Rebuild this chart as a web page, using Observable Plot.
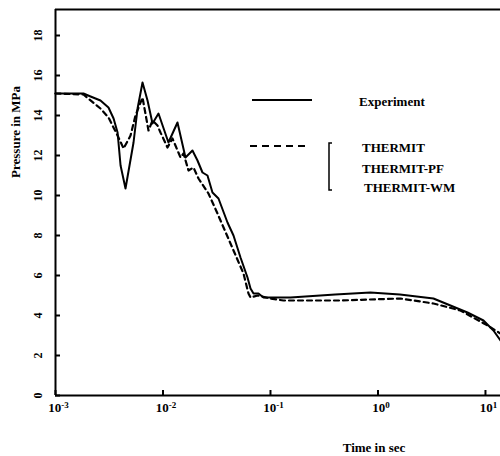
<!DOCTYPE html>
<html><head><meta charset="utf-8">
<script src="https://cdn.jsdelivr.net/npm/d3@7"></script>
<script src="https://cdn.jsdelivr.net/npm/@observablehq/plot@0.6"></script>
<style>
body{margin:0;background:#fff;}
#wrap{position:relative;width:500px;height:456px;font-family:"Liberation Serif","DejaVu Serif","Times New Roman",serif;font-weight:bold;}
#wrap svg.overlay{position:absolute;left:0;top:0;pointer-events:none;}
#wrap text{font-family:"Liberation Serif","DejaVu Serif","Times New Roman",serif;}
</style></head><body><div id="wrap"></div>
<script>
// Experiment (solid)
const expTime = [0.001, 0.00182, 0.00212, 0.00262, 0.00311, 0.00347, 0.00378, 0.00403, 0.00448, 0.00532, 0.0058, 0.00645, 0.00718, 0.00799, 0.00908, 0.01124, 0.01364, 0.01619, 0.0188, 0.02094, 0.0233, 0.02594, 0.02886, 0.03283, 0.03981, 0.04528, 0.05262, 0.06113, 0.0652, 0.0695, 0.0773, 0.0861, 0.1535, 0.4, 0.85, 1.6, 3.28, 6.8, 9.58, 11.86, 13.8];
const expPressure = [15.1, 15.1, 14.95, 14.75, 14.4, 13.85, 13.15, 11.5, 10.35, 12.65, 14.35, 15.65, 14.75, 13.6, 14.1, 12.65, 13.65, 11.9, 12.25, 11.75, 11.15, 11.0, 10.15, 9.85, 8.65, 8.0, 6.9, 5.9, 5.35, 5.1, 5.1, 4.9, 4.9, 5.05, 5.15, 5.05, 4.85, 4.15, 3.75, 3.25, 2.75];
// THERMIT family (dashed)
const thermitTime = [0.001, 0.00182, 0.00262, 0.00311, 0.00378, 0.0043, 0.00499, 0.00555, 0.00645, 0.00733, 0.00799, 0.00889, 0.00948, 0.01101, 0.01225, 0.01306, 0.01455, 0.01552, 0.01727, 0.01922, 0.02139, 0.02649, 0.03213, 0.04246, 0.0561, 0.06242, 0.0652, 0.07567, 0.1, 0.1321, 0.448, 1.62, 3.28, 5.85, 10.45, 13.8];
const thermitPressure = [15.1, 15.05, 14.35, 13.9, 13.0, 12.35, 13.0, 14.0, 14.9, 13.25, 13.75, 13.5, 13.15, 12.4, 12.85, 12.5, 11.9, 12.1, 11.25, 11.4, 10.85, 10.1, 9.1, 7.6, 6.1, 5.1, 4.9, 5.0, 4.85, 4.75, 4.75, 4.85, 4.6, 4.25, 3.5, 3.1];
const yTicks = [0, 2, 4, 6, 8, 10, 12, 14, 16, 18];
const xTicks = [0.001, 0.01, 0.1, 1, 10];
const xTickExponents = ["-3", "-2", "-1", "0", "1"];
const legendSolid = ["Experiment"];
const legendDashed = ["THERMIT", "THERMIT-PF", "THERMIT-WM"];
const xTitle = "Time in sec";
const yTitle = "Pressure in MPa";

const xDomain = [0.001, 13.8];
const yDomain = [0, 19.3];

const exp = expTime.map((t, i) => ({t, p: expPressure[i]}));
const thm = thermitTime.map((t, i) => ({t, p: thermitPressure[i]}));
const serif = "'Liberation Serif', 'DejaVu Serif', 'Times New Roman', serif";

const chart = Plot.plot({
  width: 500, height: 456,
  marginLeft: 55, marginRight: 0, marginTop: 9, marginBottom: 61,
  x: {type: "log", domain: xDomain},
  y: {domain: yDomain},
  style: {fontFamily: serif, fontWeight: "bold", fontSize: "13px", color: "#000", background: "white"},
  marks: [
    Plot.ruleY([yDomain[1]], {stroke: "#000", strokeWidth: 1.8}),
    Plot.ruleY([0], {stroke: "#000", strokeWidth: 2}),
    Plot.ruleX([xDomain[0]], {stroke: "#000", strokeWidth: 2}),
    Plot.axisY({ticks: yTicks, tickSize: -5, tickFormat: () => "", strokeWidth: 2, label: null}),
    Plot.axisY({ticks: yTicks, tickSize: 0, tickPadding: 14, tickRotate: -90, label: null, fontSize: 12}),
    Plot.axisX({ticks: xTicks, tickSize: -5, tickFormat: () => "", strokeWidth: 2, label: null}),
    Plot.axisX({ticks: xTicks, tickSize: 0, tickPadding: 7, tickFormat: (d) => "10^" + xTickExponents[xTicks.indexOf(d)], label: null, fontSize: 13, dx: 3}),
    Plot.line(thm, {x: "t", y: "p", stroke: "#000", strokeWidth: 2.2, strokeDasharray: "5,4"}),
    Plot.line(exp, {x: "t", y: "p", stroke: "#000", strokeWidth: 2})
  ]
});

// superscript exponents on x tick labels
d3.select(chart).selectAll("text").each(function() {
  const s = this.textContent;
  if (s.startsWith("10^")) {
    const e = s.slice(3);
    const sel = d3.select(this);
    sel.text("");
    sel.append("tspan").text("10");
    sel.append("tspan").attr("dy", "-0.45em").attr("font-size", 9).text(e);
  }
});

const wrap = document.getElementById("wrap");
wrap.appendChild(chart);

const ov = d3.select(wrap).append("svg").attr("class", "overlay").attr("width", 500).attr("height", 456)
  .style("font-family", serif).style("font-weight", "bold");
ov.append("line").attr("x1", 252).attr("x2", 312).attr("y1", 100).attr("y2", 100).attr("stroke", "#000").attr("stroke-width", 2);
ov.append("text").attr("x", 359).attr("y", 106).attr("font-size", 13).text(legendSolid[0]);
ov.append("line").attr("x1", 250).attr("x2", 305).attr("y1", 146).attr("y2", 146).attr("stroke", "#000").attr("stroke-width", 2).attr("stroke-dasharray", "7,5");
ov.append("path").attr("d", "M332,143H329V190H332").attr("fill", "none").attr("stroke", "#000").attr("stroke-width", 1.5);
const ly = [152, 173, 192], lx = [362, 362, 364];
legendDashed.forEach((n, i) => ov.append("text").attr("x", lx[i]).attr("y", ly[i]).attr("font-size", 13).text(n));
ov.append("text").attr("transform", "translate(20,132) rotate(-90)").attr("text-anchor", "middle").attr("font-size", 13).text(yTitle);
ov.append("text").attr("x", 374).attr("y", 452).attr("text-anchor", "middle").attr("font-size", 13).text(xTitle);
</script></body></html>
